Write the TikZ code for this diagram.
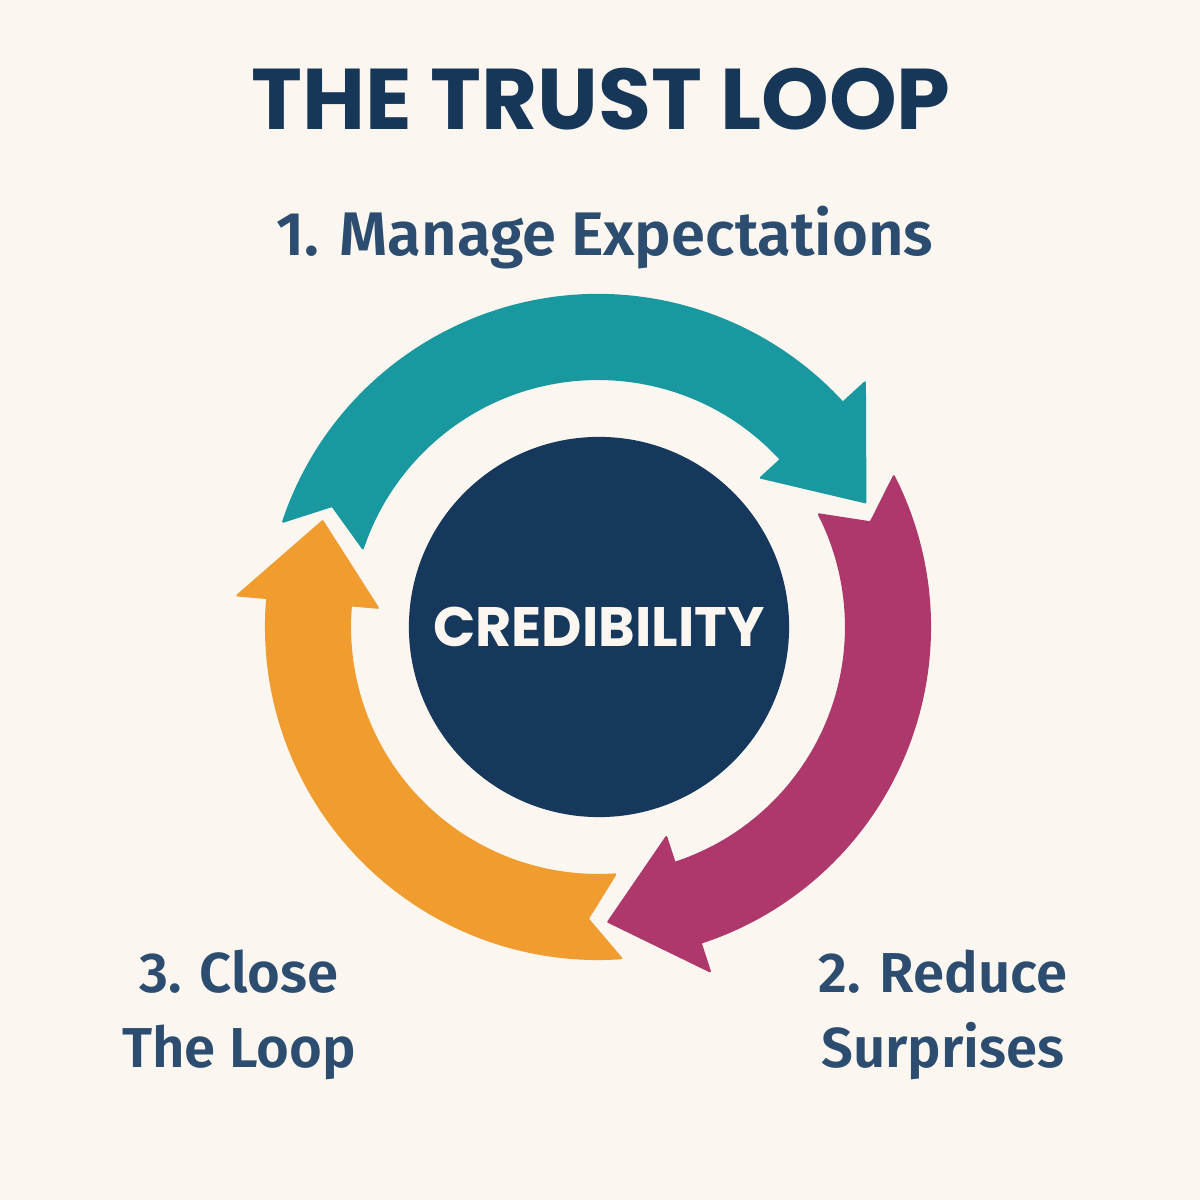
\documentclass[tikz,border=0pt]{standalone}
\usepackage{fontspec}
\usepackage{xcolor}
\setmainfont{Fira Sans}
\newfontfamily\titlefont{Poppins}
\newfontfamily\labelfont{Fira Sans SemiBold}

\definecolor{bgcream}{HTML}{FBF7F0}
\definecolor{navy}{HTML}{15385C}
\definecolor{titleblue}{HTML}{173759}
\definecolor{labelblue}{HTML}{2C4D70}
\definecolor{loopteal}{HTML}{1A98A0}
\definecolor{loopmagenta}{HTML}{AE386B}
\definecolor{looporange}{HTML}{F09C2F}

\tikzset{
  looparrow/.style={line width=0.6pt, line join=round},
  labeltext/.style={text=labelblue, font=\labelfont, align=center}
}

% #1 colour, #2 tail angle, #3 head base angle, #4 tip angle
\newcommand{\looparc}[4]{%
  \fill[looparrow, #1, draw=#1]
    (#2:332) arc[start angle=#2, end angle=#3, radius=332]
    -- (#3:362) -- (#4:295) -- (#3:221) -- (#3:248)
    arc[start angle=#3, end angle=#2, radius=248]
    -- ({#2-6}:292) -- cycle;
}

\begin{document}
\begin{tikzpicture}[x=0.01cm,y=0.01cm]
  \fill[bgcream] (0,0) rectangle (1200,1200);
  \useasboundingbox (0,0) rectangle (1200,1200);
  % title
  \node[anchor=base, text=titleblue, font=\titlefont\bfseries\fontsize{24.5}{28}\selectfont] (title) at (601,1070) {THE TRUST LOOP};
  % the three arrows round the centre
  \begin{scope}[shift={(598,573)}]
    \looparc{loopteal}{161.5}{42.5}{25}
    \looparc{loopmagenta}{27}{-72}{-88}
    \looparc{looporange}{274}{175}{159}
  \end{scope}
  % centre
  \node[circle, fill=navy, minimum size=3.8cm, inner sep=0pt, text=bgcream,
        font=\titlefont\bfseries\fontsize{15.8}{20}\selectfont] (cred) at (599,573) {CREDIBILITY};
  % step labels
  \node[labeltext, anchor=base, font=\labelfont\fontsize{17.5}{20}\selectfont] (manage) at (605,944) {1. Manage Expectations};
  \node[labeltext, font=\labelfont\fontsize{16}{21.3}\selectfont] (reduce) at (943,185) {2. Reduce\\ Surprises};
  \node[labeltext, font=\labelfont\fontsize{16}{21.3}\selectfont] (close) at (239,185) {3. Close\\ The Loop};
\end{tikzpicture}
\end{document}
